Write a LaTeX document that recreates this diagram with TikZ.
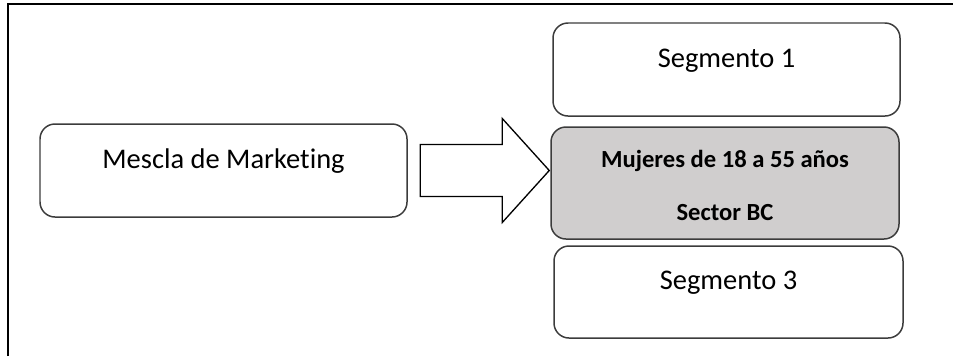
\documentclass[tikz,border=0pt]{standalone}
\usepackage{fontspec}
\setmainfont{Carlito}[Ligatures=CommonOff]
\definecolor{boxgray}{RGB}{208,206,206}
\definecolor{edgegray}{RGB}{60,60,60}
\begin{document}
\begin{tikzpicture}
    \tikzset{block/.style= {draw=edgegray,
                            line width=0.85pt,
                            rectangle,
                            rounded corners=0.3cm,
                            inner ysep=0pt,
                            text height=0.88cm,
                            text depth=0.98cm,
                            font=\fontsize{16.2}{19}\selectfont,
                            minimum width=6.96cm},
             target/.style= {draw=edgegray,
                            line width=0.85pt,
                            fill=boxgray,
                            rectangle,
                            rounded corners=0.3cm,
                            align=center,
                            font=\fontsize{14}{16.8}\selectfont\bfseries,
                            minimum width=6.96cm,
                            minimum height=2.24cm},
             bigarrow/.style= {draw=black,
                            line width=0.75pt,
                            fill=white},
            }
    \useasboundingbox (0,0) rectangle (19.06,7.12);
    \path
    (4.47,3.71)   node[block, minimum width=7.34cm](m) {Mescla de Marketing}
    (14.53,5.73)  node[block, minimum width=6.94cm](s1) {Segmento 1}
    (14.50,3.46)  node[target](c) {\rule{0pt}{15.5pt}Mujeres de 18 a 55 años\\[13.8pt]Sector BC\rule[-3pt]{0pt}{3pt}}
    (14.57,1.28)  node[block, minimum width=6.98cm, text height=0.86cm](s3) {Segmento 3}
    ;
    % frame
    \coordinate (fb) at (0.16,0);
    \coordinate (ft) at (0.16,7.04);
    \coordinate (fr) at (19.06,7.04);
    \draw[line width=1.15pt] (fb) -- (ft) -- (fr);
    % block arrow
    \coordinate (tip) at ([xshift=-0.02cm]c.west |- m.east);
    \draw[bigarrow] (tip) -- ++(-0.94,1.04) -- ++(0,-0.52) -- ++(-1.64,0)
        -- ++(0,-1.04) -- ++(1.64,0) -- ++(0,-0.52) -- cycle;
\end{tikzpicture}
\end{document}
